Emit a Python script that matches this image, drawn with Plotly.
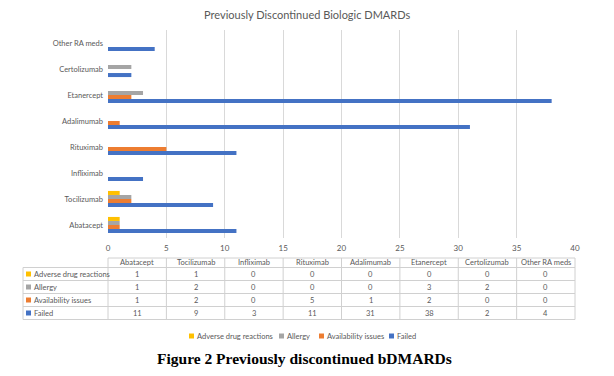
import plotly.graph_objects as go

categories = ["Abatacept", "Tocilizumab", "Infliximab", "Rituximab",
              "Adalimumab", "Etanercept", "Certolizumab", "Other RA meds"]
series_names = ["Adverse drug reactions", "Allergy", "Availability issues", "Failed"]
adverse = [1, 1, 0, 0, 0, 0, 0, 0]
allergy = [1, 2, 0, 0, 0, 3, 2, 0]
availability = [1, 2, 0, 5, 1, 2, 0, 0]
failed = [11, 9, 3, 11, 31, 38, 2, 4]
colors = ["#FFC000", "#A5A5A5", "#ED7D31", "#4472C4"]

title_text = "Previously Discontinued Biologic DMARDs"
caption_text = "Figure 2 Previously discontinued bDMARDs"

W, H = 614, 376
FONT = "Lato"
GRAY = "#595959"
LINE = "#d0d0d0"

series_values = [adverse, allergy, availability, failed]


def px(x):
    return x / W


def py(y):
    return 1 - y / H


fig = go.Figure()
# horizontal groups fill bottom-up: add Failed first so it sits lowest
for name, vals, col in reversed(list(zip(series_names, series_values, colors))):
    fig.add_trace(go.Bar(
        y=categories, x=vals, name=name, orientation="h",
        marker=dict(color=col, line=dict(width=0)), showlegend=False,
    ))

shapes = []
annotations = []

# ---- data table (Excel-style) ----
X0_AXIS, X1_AXIS = 108, 575
LABEL_LEFT = 23
n = len(categories)
colw = (X1_AXIS - X0_AXIS) / n
TOP, HEAD_BOT, ROW_H = 258, 267.5, 13
rows_bot = HEAD_BOT + ROW_H * len(series_names)


def hline(y, x0, x1):
    shapes.append(dict(type="line", xref="paper", yref="paper",
                       x0=px(x0), x1=px(x1), y0=py(y), y1=py(y),
                       line=dict(color=LINE, width=1)))


def vline(x, y0, y1):
    shapes.append(dict(type="line", xref="paper", yref="paper",
                       x0=px(x), x1=px(x), y0=py(y0), y1=py(y1),
                       line=dict(color=LINE, width=1)))


hline(TOP, X0_AXIS, X1_AXIS)
for r in range(len(series_names) + 1):
    hline(HEAD_BOT + r * ROW_H, LABEL_LEFT, X1_AXIS)
vline(LABEL_LEFT, HEAD_BOT, rows_bot)
for i in range(n + 1):
    vline(X0_AXIS + i * colw, TOP, rows_bot)


def txt(s, x, y, anchor="center", size=7.5, color=GRAY, family=FONT):
    annotations.append(dict(text=s, x=px(x), y=py(y), xref="paper", yref="paper",
                            showarrow=False, xanchor=anchor, yanchor="middle",
                            font=dict(family=family, size=size, color=color)))


for i, cat in enumerate(categories):
    txt(cat, X0_AXIS + (i + 0.5) * colw, (TOP + HEAD_BOT) / 2)
for r, (name, vals, col) in enumerate(zip(series_names, series_values, colors)):
    yc = HEAD_BOT + (r + 0.5) * ROW_H
    shapes.append(dict(type="rect", xref="paper", yref="paper",
                       x0=px(26), x1=px(31), y0=py(yc - 2.5), y1=py(yc + 2.5),
                       fillcolor=col, line=dict(width=0)))
    txt(name, 32, yc, anchor="left")
    for i, v in enumerate(vals):
        txt(str(v), X0_AXIS + (i + 0.5) * colw, yc)

# ---- legend (small squares like Excel) ----
LEG_Y = 336
leg_x = [189, 279, 319, 389]
for name, col, lx in zip(series_names, colors, leg_x):
    shapes.append(dict(type="rect", xref="paper", yref="paper",
                       x0=px(lx), x1=px(lx + 5), y0=py(LEG_Y - 2.5), y1=py(LEG_Y + 2.5),
                       fillcolor=col, line=dict(width=0)))
    txt(name, lx + 6, LEG_Y, anchor="left")

# ---- title and caption ----
txt(title_text, 307, 14, size=11)
txt(f"<b>{caption_text}</b>", 304, 358, size=15.5, color="black",
    family="Liberation Serif")

fig.update_layout(
    width=W, height=H,
    margin=dict(l=0, r=0, t=0, b=0, autoexpand=False),
    paper_bgcolor="white", plot_bgcolor="white",
    barmode="group", bargap=0.38, bargroupgap=0,
    font=dict(family=FONT, color=GRAY, size=8),
    showlegend=False,
    xaxis=dict(domain=[px(X0_AXIS), px(X1_AXIS)], range=[0, 40], dtick=5,
               showgrid=True, gridcolor="#d9d9d9", gridwidth=1,
               zeroline=False, showline=False, ticks="", automargin=False,
               ticklabelstandoff=4,
               tickfont=dict(size=8, color=GRAY)),
    yaxis=dict(domain=[py(238), py(30)], categoryorder="array",
               categoryarray=categories, showgrid=False, showline=False,
               ticks="", ticklabelstandoff=4, automargin=False,
               tickfont=dict(size=7.5, color=GRAY)),
    shapes=shapes,
    annotations=annotations,
)

fig.write_html("out.html", config=dict(displayModeBar=False),
               post_script="document.body.style.margin='0';")
